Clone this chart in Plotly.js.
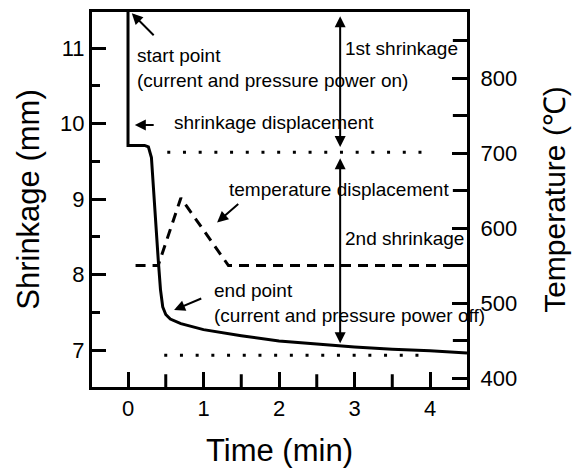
<!DOCTYPE html>
<html>
<head>
<meta charset="utf-8">
<script src="https://cdn.plot.ly/plotly-3.0.1.min.js"></script>
<style>html,body{margin:0;padding:0;background:#fff;}#chart{width:576px;height:468px;}.modebar-container,.modebar{display:none !important;}</style>
</head>
<body>
<div id="chart"></div>
<script>
// Shrinkage curve (mm) vs time (min)
const shrinkTime  = [0, 0, 0.22, 0.27, 0.31, 0.35, 0.40, 0.43, 0.46, 0.50, 0.56, 0.70, 1.0, 1.5, 2.0, 2.5, 3.0, 3.5, 4.0, 4.49];
const shrinkValue = [11.6, 9.71, 9.71, 9.69, 9.55, 8.9, 8.2, 7.8, 7.57, 7.47, 7.41, 7.35, 7.27, 7.19, 7.12, 7.08, 7.04, 7.01, 6.99, 6.96];
// Temperature (°C) vs time (min)
const tempTime  = [0.1, 0.40, 0.70, 1.33, 4.49];
const tempValue = [550, 550, 640, 550, 550];
// Dotted reference levels (mm)
const upperRefTime = [0.52, 4.05];
const upperRefValue = [9.62, 9.62];
const lowerRefTime = [0.48, 3.97];
const lowerRefValue = [6.93, 6.93];
// Axis ranges
const xRange = [-0.477, 4.49];
const yRange = [6.51, 11.477];
const y2Range = [388, 888];

const F = 'Liberation Sans, Arial, sans-serif';

// minor tick positions (half steps between labelled ticks)
const xMinor = [];
for (let v = 0.5; v < xRange[1]; v += 1) xMinor.push(v);
const y2Minor = [];
for (let v = 450; v < y2Range[1]; v += 100) y2Minor.push(v);

const data = [
  {x: tempTime, y: tempValue, yaxis: 'y2', mode: 'lines', line: {color: '#000', width: 3, dash: '10px,7px'}},
  {x: shrinkTime, y: shrinkValue, mode: 'lines', line: {color: '#000', width: 3}},
  {x: upperRefTime, y: upperRefValue, mode: 'lines', line: {color: '#000', width: 3, dash: '3px,12.7px'}},
  {x: lowerRefTime, y: lowerRefValue, mode: 'lines', line: {color: '#000', width: 3, dash: '3px,12.7px'}},
  // minor tick marks for the time axis and the temperature axis (clipped to the plot area)
  {x: xMinor, y: xMinor.map(() => yRange[0] + 0.002), mode: 'markers', cliponaxis: true,
   marker: {symbol: 'line-ns', size: 18, color: '#000', line: {color: '#000', width: 3}}},
  {x: y2Minor.map(() => xRange[1] - 0.002), y: y2Minor, yaxis: 'y2', mode: 'markers', cliponaxis: true,
   marker: {symbol: 'line-ew', size: 20, color: '#000', line: {color: '#000', width: 3}}}
];

function arrow(x, y, ax, ay, both) {
  const a = {x: x, y: y, ax: ax, ay: ay, xref: 'x', yref: 'y', axref: 'x', ayref: 'y',
    text: '', showarrow: true, arrowhead: 2, arrowsize: 1.1, arrowwidth: 2, arrowcolor: '#000'};
  if (both) { a.arrowside = 'end+start'; a.startarrowhead = 2; a.startarrowsize = 1.1; }
  return a;
}
function label(x, y, t) {
  return {x: x, y: y, xref: 'x', yref: 'y', text: t, showarrow: false, xanchor: 'left', yanchor: 'middle',
    align: 'left', font: {family: F, size: 19, color: '#000'}};
}

const annotations = [
  label(0.09, 10.73, 'start point<br>(current and pressure power on)'),
  label(0.58, 10.01, 'shrinkage displacement'),
  label(1.31, 9.13, 'temperature displacement'),
  label(2.85, 10.99, '1st shrinkage'),
  label(2.85, 8.48, '2nd shrinkage'),
  label(1.11, 7.62, 'end point<br>(current and pressure power off)'),
  arrow(0.05, 11.46, 0.36, 11.15),
  arrow(0.09, 9.98, 0.36, 9.98),
  arrow(1.18, 8.69, 1.48, 8.95),
  arrow(0.61, 7.53, 0.99, 7.69),
  arrow(2.81, 9.69, 2.81, 11.44, true),
  arrow(2.81, 7.09, 2.81, 9.56, true)
];

const layout = {
  width: 576, height: 468,
  margin: {l: 92, r: 109, t: 12, b: 81},
  showlegend: false,
  font: {family: F, color: '#000'},
  xaxis: {
    range: xRange, tickmode: 'linear', tick0: 0, dtick: 1,
    ticks: 'inside', ticklen: 15, tickwidth: 3, tickcolor: '#000',
    showline: true, linewidth: 3, linecolor: '#000', mirror: true, showgrid: false, zeroline: false,
    tickfont: {family: F, size: 22},
    title: {text: 'Time (min)', font: {family: F, size: 31}, standoff: 20}
  },
  yaxis: {
    range: yRange, tickmode: 'linear', tick0: 0, dtick: 1,
    ticks: 'inside', ticklen: 14, tickwidth: 3, tickcolor: '#000',
    minor: {dtick: 0.5, ticks: 'inside', ticklen: 8, tickwidth: 3, tickcolor: '#000'},
    showline: true, linewidth: 3, linecolor: '#000', showgrid: false, zeroline: false,
    tickfont: {family: F, size: 22},
    title: {text: 'Shrinkage (mm)', font: {family: F, size: 31}, standoff: 12}
  },
  yaxis2: {
    overlaying: 'y', side: 'right', range: y2Range, tickmode: 'linear', tick0: 0, dtick: 100,
    ticks: 'inside', ticklen: 15, tickwidth: 3, tickcolor: '#000',
    showline: true, linewidth: 3, linecolor: '#000', showgrid: false, zeroline: false,
    tickfont: {family: F, size: 22}, tickprefix: '\u00a0',
    title: {text: 'Temperature (℃)', font: {family: F, size: 30}, standoff: 28}
  },
  annotations: annotations
};

Plotly.newPlot('chart', data, layout);
</script>
</body>
</html>
